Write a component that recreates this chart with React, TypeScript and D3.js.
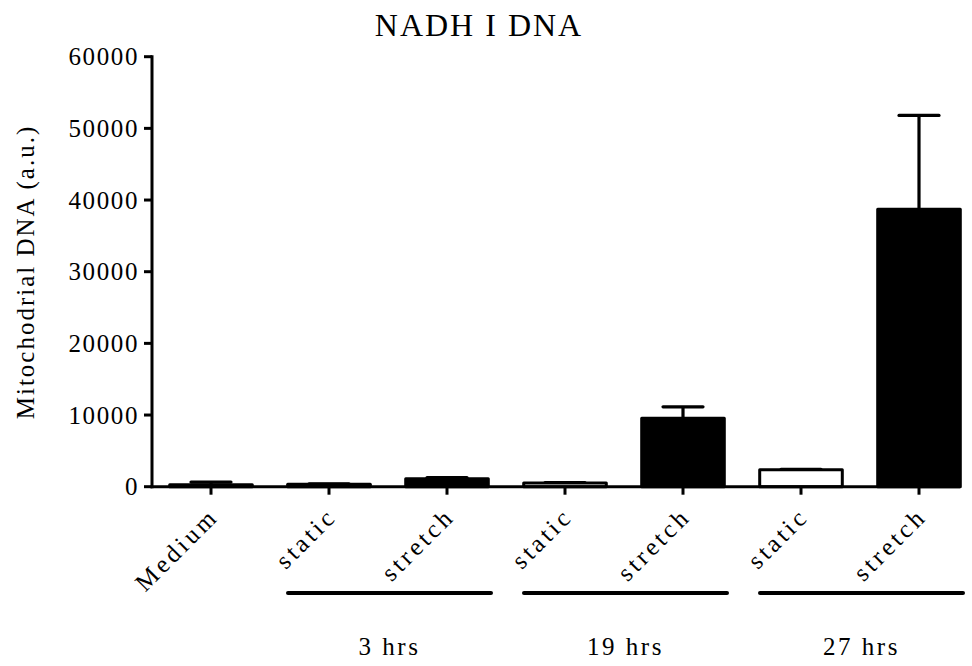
import React from "react";
import * as d3 from "d3";

const barKeys = ["medium", "3h-static", "3h-stretch", "19h-static", "19h-stretch", "27h-static", "27h-stretch"];
const barLabels = ["Medium", "static", "stretch", "static", "stretch", "static", "stretch"];
const treatments = ["medium", "static", "stretch", "static", "stretch", "static", "stretch"];
const means = [280, 350, 1100, 500, 9550, 2370, 38700];
const errors = [370, 60, 180, 60, 1600, 50, 13100];
const groupLabels = ["3 hrs", "19 hrs", "27 hrs"];
const groupMembers = [["3h-static", "3h-stretch"], ["19h-static", "19h-stretch"], ["27h-static", "27h-stretch"]];
const yTicks = [0, 10000, 20000, 30000, 40000, 50000, 60000];
const title = "NADH I DNA";
const yTitle = "Mitochodrial DNA  (a.u.)";

const FONT = "'Liberation Serif', 'Times New Roman', serif";

export default function App() {
  const W = 972, H = 666;
  const x0 = 152, xEnd = 960;
  const y = d3.scaleLinear().domain([0, 60000]).range([486.7, 56.7]);
  const x = d3.scaleBand<string>().domain(barKeys).range([152, 978]).paddingInner(0.3).paddingOuter(0.15);
  const bw = x.bandwidth();
  const cx = (k: string) => (x(k) as number) + bw / 2;
  const fillFor = (t: string) => (t === "static" ? "#fff" : "#000");

  return (
    <svg width={W} height={H} style={{ position: "absolute", left: 0, top: 0, background: "#fff" }} fontFamily={FONT}>
      <rect width={W} height={H} fill="#fff" />
      <text x={479} y={36} textAnchor="middle" fontSize={32} letterSpacing={2}>{title}</text>
      <text transform={`translate(34,272) rotate(-90)`} textAnchor="middle" fontSize={25} letterSpacing={2}>{yTitle}</text>

      {/* bars */}
      {barKeys.map((k, i) => {
        const top = y(means[i]);
        const base = y(0);
        return (
          <g key={k}>
            <line x1={cx(k)} x2={cx(k)} y1={top} y2={y(means[i] + errors[i])} stroke="#000" strokeWidth={3.2} />
            <line x1={cx(k) - 20} x2={cx(k) + 20} y1={y(means[i] + errors[i])} y2={y(means[i] + errors[i])} stroke="#000" strokeWidth={3.2} strokeLinecap="round" />
            <rect x={x(k) as number} y={top} width={bw} height={Math.max(0, base - top)} fill={fillFor(treatments[i])} stroke="#000" strokeWidth={3} strokeLinejoin="round" />
          </g>
        );
      })}

      {/* y axis */}
      <line x1={x0} x2={x0} y1={y(60000) - 1.5} y2={y(0) + 1.5} stroke="#000" strokeWidth={3} />
      {yTicks.map((t) => (
        <g key={t}>
          <line x1={x0 - 8} x2={x0} y1={y(t)} y2={y(t)} stroke="#000" strokeWidth={3} />
          <text x={139} y={y(t)} dy="0.35em" textAnchor="end" fontSize={25} letterSpacing={1.6}>{t}</text>
        </g>
      ))}

      {/* x axis */}
      <line x1={x0 - 1.5} x2={xEnd} y1={y(0)} y2={y(0)} stroke="#000" strokeWidth={3} />
      {barKeys.map((k, i) => (
        <g key={"t" + k}>
          <line x1={cx(k)} x2={cx(k)} y1={y(0)} y2={y(0) + 8} stroke="#000" strokeWidth={3} />
          <text transform={`translate(${cx(k) + 9},${518}) rotate(-45)`} textAnchor="end" fontSize={25} letterSpacing={3.5}>{barLabels[i]}</text>
        </g>
      ))}

      {/* group lines */}
      {groupMembers.map((m, gi) => {
        const a = cx(m[0]) - 41;
        const b = cx(m[1]) + 44;
        return (
          <g key={"g" + gi}>
            <line x1={a} x2={b} y1={593} y2={593} stroke="#000" strokeWidth={4} strokeLinecap="round" />
            <text x={(a + b) / 2} y={655} textAnchor="middle" fontSize={25} letterSpacing={2.5}>{groupLabels[gi]}</text>
          </g>
        );
      })}
    </svg>
  );
}
